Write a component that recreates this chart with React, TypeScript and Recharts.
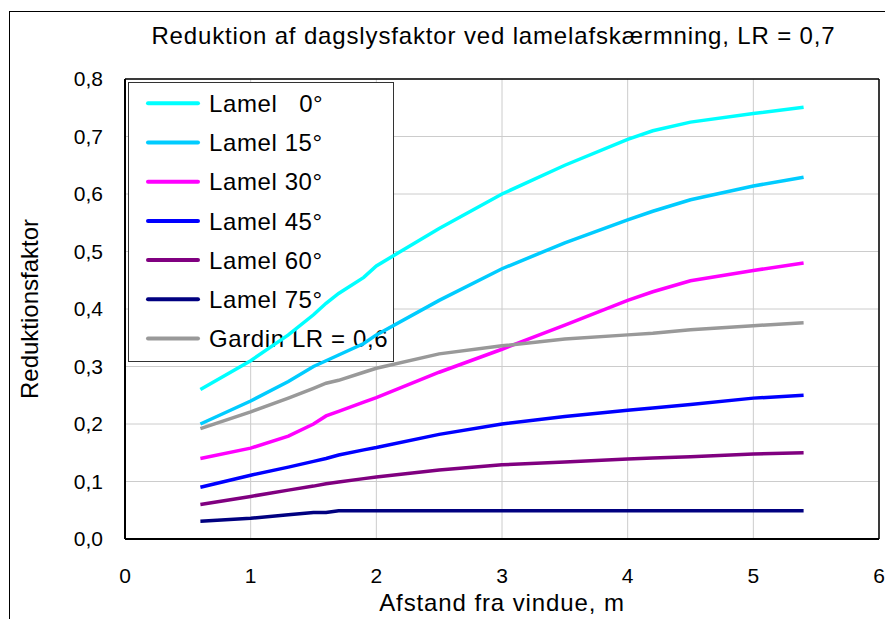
import React from 'react';
import { LineChart, Line, XAxis, YAxis, CartesianGrid, ReferenceLine } from 'recharts';

const FONT = '"Liberation Sans", Arial, sans-serif';

// afstand fra vindue (m)
const distances = [0.6, 1.0, 1.3, 1.5, 1.6, 1.7, 1.9, 2.0, 2.5, 3.0, 3.5, 4.0, 4.2, 4.5, 5.0, 5.4];

const lamel0 = [0.26, 0.31, 0.355, 0.39, 0.41, 0.427, 0.455, 0.475, 0.54, 0.6, 0.65, 0.695, 0.71, 0.725, 0.74, 0.751];
const lamel15 = [0.2, 0.24, 0.274, 0.3, 0.31, 0.32, 0.34, 0.355, 0.415, 0.47, 0.515, 0.555, 0.57, 0.59, 0.614, 0.629];
const lamel30 = [0.14, 0.158, 0.179, 0.2, 0.214, 0.222, 0.238, 0.246, 0.29, 0.33, 0.372, 0.415, 0.43, 0.449, 0.467, 0.48];
const lamel45 = [0.09, 0.111, 0.125, 0.135, 0.14, 0.146, 0.155, 0.159, 0.182, 0.2, 0.213, 0.224, 0.228, 0.234, 0.245, 0.25];
const lamel60 = [0.06, 0.074, 0.085, 0.092, 0.096, 0.099, 0.105, 0.108, 0.12, 0.129, 0.134, 0.139, 0.141, 0.143, 0.148, 0.15];
const lamel75 = [0.031, 0.036, 0.042, 0.046, 0.046, 0.049, 0.049, 0.049, 0.049, 0.049, 0.049, 0.049, 0.049, 0.049, 0.049, 0.049];
const gardin = [0.192, 0.221, 0.245, 0.262, 0.271, 0.276, 0.29, 0.297, 0.322, 0.336, 0.348, 0.355, 0.358, 0.364, 0.371, 0.376];

const xTicks = [0, 1, 2, 3, 4, 5, 6];
const yTicks = [0, 0.1, 0.2, 0.3, 0.4, 0.5, 0.6, 0.7, 0.8];

const SERIES = [
  { key: 'l0', name: 'Lamel   0°', values: lamel0, color: '#00FFFF' },
  { key: 'l15', name: 'Lamel 15°', values: lamel15, color: '#00CCFF' },
  { key: 'l30', name: 'Lamel 30°', values: lamel30, color: '#FF00FF' },
  { key: 'l45', name: 'Lamel 45°', values: lamel45, color: '#0000FF' },
  { key: 'l60', name: 'Lamel 60°', values: lamel60, color: '#800080' },
  { key: 'l75', name: 'Lamel 75°', values: lamel75, color: '#000080' },
  { key: 'gardin', name: 'Gardin LR = 0,6', values: gardin, color: '#999999' },
];

const data = distances.map((d, i) => {
  const row: any = { d };
  SERIES.forEach(s => { row[s.key] = s.values[i]; });
  return row;
});

const fmtY = (v: number) => v.toFixed(1).replace('.', ',');

// legend box drawn inside the svg so the curves pass over it
const LegendBox = () => (
  <g>
    <rect x={128.5} y={82.5} width={265} height={279} fill="#fff" stroke="#333" strokeWidth={1} />
    {SERIES.map((s, i) => {
      const cy = 103.3 + i * 39.2;
      return (
        <g key={s.key}>
          <line x1={148} x2={198} y1={cy} y2={cy} stroke={s.color} strokeWidth={4} strokeLinecap="round" />
          <text x={209} y={cy} dy="0.36em" fontSize={24} letterSpacing={0.6} fontFamily={FONT} fill="#000" style={{ whiteSpace: 'pre' }}>
            {s.name}
          </text>
        </g>
      );
    })}
  </g>
);

export default function App() {
  return (
    <div style={{ position: 'absolute', left: 0, top: 0, width: 885, height: 619, overflow: 'hidden', background: '#fff', fontFamily: FONT }}>
      <div style={{ position: 'absolute', left: 9, top: 11, width: 1000, height: 1000, border: '1px solid #000' }} />
      <div style={{ position: 'absolute', left: 0, top: 0 }}>
        <LineChart width={885} height={619} data={data} margin={{ top: 79, right: 6, left: 25, bottom: 0 }}>
          <CartesianGrid horizontal={{ stroke: '#777' }} vertical={{ stroke: '#111' }} strokeWidth={1} />
          <ReferenceLine y={0.8} stroke="#000" strokeWidth={1.5} />
          <ReferenceLine x={6} stroke="#000" strokeWidth={1.5} />
          <XAxis
            dataKey="d"
            type="number"
            domain={[0, 6]}
            ticks={xTicks}
            interval={0}
            height={80}
            tickSize={0}
            tickMargin={29}
            axisLine={{ stroke: '#000', strokeWidth: 2 }}
            tick={{ fontSize: 21, fill: '#000', fontFamily: FONT }}
            label={{ value: 'Afstand fra vindue, m', position: 'insideBottom', offset: 8, fontSize: 24, letterSpacing: 0.9, fill: '#000', fontFamily: FONT }}
          />
          <YAxis
            type="number"
            domain={[0, 0.8]}
            ticks={yTicks}
            interval={0}
            width={100}
            tickSize={0}
            tickMargin={22}
            tickFormatter={fmtY}
            axisLine={{ stroke: '#000', strokeWidth: 2 }}
            tick={{ fontSize: 21, fill: '#000', fontFamily: FONT }}
            label={{ value: 'Reduktionsfaktor', angle: -90, position: 'insideLeft', offset: 4, fontSize: 24, fill: '#000', fontFamily: FONT, style: { textAnchor: 'middle' } }}
          />
          <LegendBox />
          {SERIES.map(s => (
            <Line
              key={s.key}
              dataKey={s.key}
              name={s.name}
              type="linear"
              stroke={s.color}
              strokeWidth={3.5}
              dot={false}
              isAnimationActive={false}
            />
          ))}
        </LineChart>
      </div>
      <div style={{ position: 'absolute', left: 0, width: 987, top: 22, textAlign: 'center', fontSize: 24, letterSpacing: 0.85, color: '#000', whiteSpace: 'nowrap' }}>
        Reduktion af dagslysfaktor ved lamelafskærmning, LR = 0,7
      </div>
    </div>
  );
}
